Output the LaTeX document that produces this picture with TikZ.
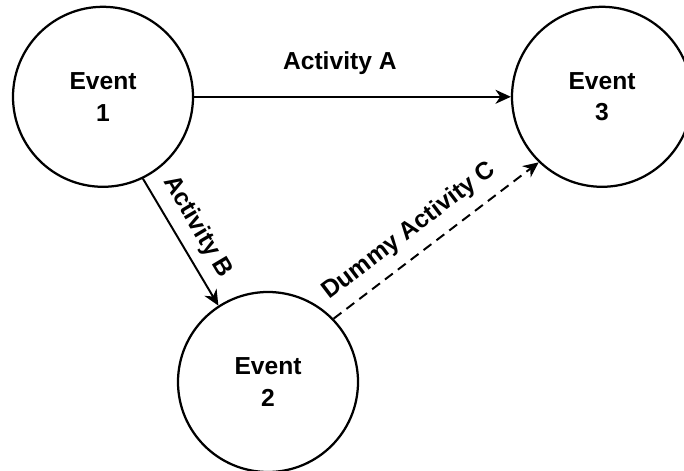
\documentclass[tikz,border=0pt]{standalone}
\usepackage{fontspec}
\setmainfont{Liberation Sans}
\usetikzlibrary{arrows.meta}

\begin{document}
\begin{tikzpicture}[
                        > = {Stealth[length=11pt, width=10pt, inset=3.5pt]},
             event/.style = {circle, draw=black, line width=1.6pt,
                            minimum size=4.5cm,
                            inner sep=0pt,
                            align=center,
                            font=\fontsize{17.5}{22.5}\selectfont\bfseries},
               act/.style = {->, line width=1.4pt},
             dummy/.style = {act, dash pattern=on 7pt off 4.5pt},
               lbl/.style = {font=\fontsize{17.5}{21}\selectfont\bfseries,
                            inner sep=2pt},
            ]
            \useasboundingbox (0,0) rectangle (17.1,11.75);

            % events
            \node[event] (e1) at (2.575,9.33) {Event\\1};
            \node[event] (e2) at (6.7,2.2)    {Event\\2};
            \node[event] (e3) at (15.05,9.33) {Event\\3};

            % activities
            \draw[act] (e1.east) -- node[lbl, pos=0.46, above=13pt] {Activity A} (e3.west);
            \draw[act] (e1.-64) -- node[lbl, pos=0.47, sloped, above=5pt] {Activity B} (e2.123);
            \draw[dummy] (e2.44) -- node[lbl, pos=0.44, sloped, above=6pt] {Dummy Activity C} (e3.226);
        \end{tikzpicture}
\end{document}
